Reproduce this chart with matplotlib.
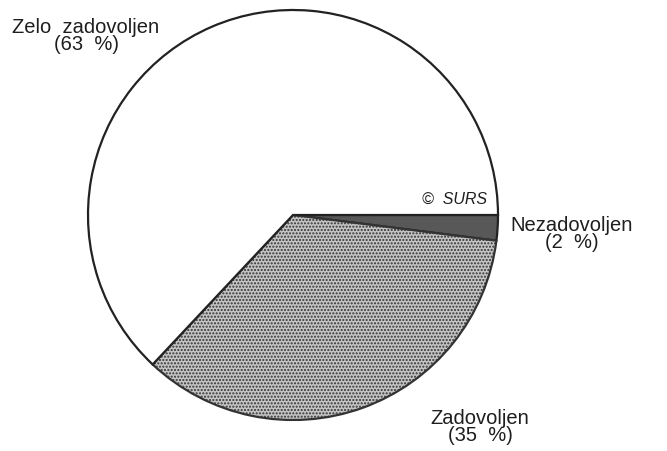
import matplotlib.pyplot as plt

plt.rcParams['font.family'] = ['Liberation Sans', 'DejaVu Sans']

# podatki: zadovoljstvo
kategorije = ['Nezadovoljen', 'Zadovoljen', 'Zelo zadovoljen']
deleži = [2, 35, 63]
oznake = ['Nezadovoljen\n(2  %)', 'Zadovoljen\n(35  %)', 'Zelo  zadovoljen\n(63  %)']
barve = ['#585858', '#c4c4c4', 'white']

fig = plt.figure(figsize=(6.67, 4.52), dpi=100)
ax = fig.add_axes([0, 0, 1, 1])

wedges, _ = ax.pie(deleži, colors=barve, startangle=0, counterclock=False,
                   center=(293, 236), radius=205, frame=True,
                   wedgeprops=dict(edgecolor='#222222', linewidth=1.6))
wedges[1].set_hatch('.....')
wedges[1].set_edgecolor('#333333')
ax.set_xlim(0, 667)
ax.set_ylim(0, 452)
ax.set_aspect('equal')
ax.axis('off')

# oznake
slog = dict(ha='center', va='center', fontsize=14.5, color='#1e1e1e', linespacing=0.92)
ax.text(572, 218, oznake[0], **slog)
ax.text(480, 25, oznake[1], **slog)
ax.text(86, 416, oznake[2], **slog)
ax.text(454, 253, '©  SURS', ha='center', va='center', fontsize=11.5,
        style='italic', color='#1e1e1e')

fig.savefig('out.png', dpi=100)
